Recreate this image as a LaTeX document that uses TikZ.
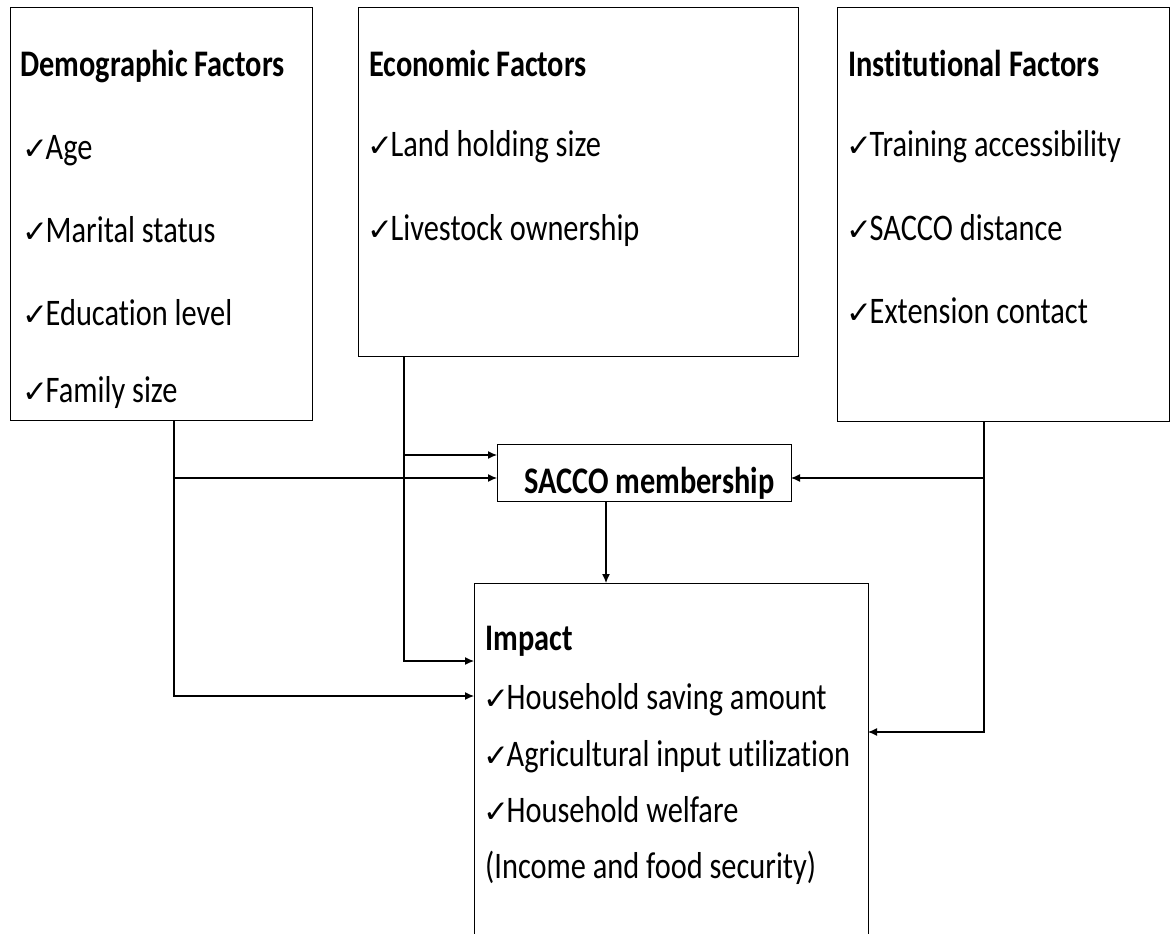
\documentclass[tikz,border=0pt]{standalone}
\usepackage{fontspec}
\setmainfont{Carlito}[FakeStretch=0.81,Ligatures=NoCommon]
\newfontfamily\symfont{DejaVu Sans}
\usetikzlibrary{arrows.meta}
\newcommand{\tick}{{\symfont\fontsize{31}{31}\selectfont ✓}\kern-2.5pt}

\begin{document}
\begin{tikzpicture}[x=1pt,y=-1pt,
  box/.style={draw=black,line width=1pt,anchor=north west,inner sep=0pt},
  head/.style={anchor=base west,inner sep=0pt,font=\fontsize{37.5}{40}\selectfont\bfseries},
  item/.style={anchor=base west,inner sep=0pt,font=\fontsize{37.5}{40}\selectfont},
  arr/.style={line width=1.2pt,-{Latex[length=9pt,width=8pt]}}]
	\useasboundingbox (0,0) rectangle (1171,934);

	\node[box,minimum width=302pt,minimum height=413pt] (dem) at (10,7) {};
	\node[box,minimum width=440pt,minimum height=349pt] (eco) at (358,7) {};
	\node[box,minimum width=332pt,minimum height=414pt] (ins) at (837,7) {};
	\node[box,minimum width=294pt,minimum height=57pt] (sacco) at (497,444) {};
	\node[anchor=north west,inner sep=0pt,minimum width=394pt,minimum height=351pt] (imp) at (474,583) {};
	\draw[line width=1pt] (imp.south west) |- (imp.north east) -- (imp.south east);

	\node[head] (dem-h) at (20,77) {Demographic Factors};
	\node[item] (dem-1) at (22,159) {\tick Age};
	\node[item] (dem-2) at (22,242) {\tick Marital status};
	\node[item] (dem-3) at (22,325) {\tick Education level};
	\node[item] (dem-4) at (22,402) {\tick Family size};

	\node[head] (eco-h) at (369,77) {Economic Factors};
	\node[item] (eco-1) at (367,157) {\tick Land holding size};
	\node[item] (eco-2) at (367,240) {\tick Livestock ownership};

	\node[head] (ins-h) at (848,77) {Institutional Factors};
	\node[item] (ins-1) at (846,157) {\tick Training accessibility};
	\node[item] (ins-2) at (846,240) {\tick SACCO distance};
	\node[item] (ins-3) at (846,323) {\tick Extension contact};

	\node[head] (sacco-t) at (524,493) {SACCO membership};

	\node[head] (imp-h) at (485,650) {Impact};
	\node[item] (imp-1) at (483,709) {\tick Household saving amount};
	\node[item] (imp-2) at (483,766) {\tick Agricultural input utilization};
	\node[item] (imp-3) at (483,822) {\tick Household welfare};
	\node[item] (imp-4) at (485,878) {(Income and food security)};

	\coordinate (dem-out) at (174,420);
	\coordinate (eco-out) at (404,356);
	\coordinate (ins-out) at (984,421);
	\coordinate (sacco-out) at (606,501);
	\coordinate (sacco-in1) at (497,455);
	\coordinate (sacco-in2) at (497,478);
	\coordinate (sacco-in3) at (791,478);
	\coordinate (imp-in1) at (474,661);
	\coordinate (imp-in2) at (474,696);
	\coordinate (imp-in3) at (868,732);

	\draw[arr] (dem-out) |- (imp-in2);
	\draw[arr] (dem-out |- sacco-in2) -- (sacco-in2);
	\draw[arr] (eco-out) |- (imp-in1);
	\draw[arr] (eco-out |- sacco-in1) -- (sacco-in1);
	\draw[arr] (ins-out) |- (imp-in3);
	\draw[arr] (ins-out |- sacco-in3) -- (sacco-in3);
	\draw[arr] (sacco-out) -- (sacco-out |- imp.north);
\end{tikzpicture}
\end{document}
